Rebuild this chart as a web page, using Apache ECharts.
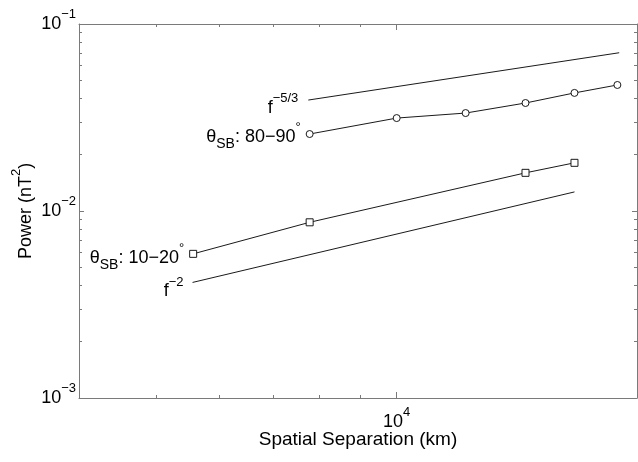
<!DOCTYPE html>
<html>
<head>
<meta charset="utf-8">
<script src="https://cdn.jsdelivr.net/npm/echarts@6/dist/echarts.min.js"></script>
<style>
html,body{margin:0;padding:0;background:#fff;}
#c{width:638px;height:462px;}
</style>
</head>
<body>
<div id="c"></div>
<script>
// ---- data ----
const xMin = 4000, xMax = 20000;
const yMin = 0.001, yMax = 0.1;
const xMajorTicks = [10000];
const xMinorTicks = [5000, 6000, 7000, 8000, 9000];
const yMajorTicks = [0.001, 0.01, 0.1];
const yMinorTicks = [0.002,0.003,0.004,0.005,0.006,0.007,0.008,0.009,0.02,0.03,0.04,0.05,0.06,0.07,0.08,0.09];

const perpX = [7780, 10000, 12200, 14500, 16700, 18900];   // theta_SB 80-90
const perpY = [0.0258, 0.0314, 0.0334, 0.0378, 0.0428, 0.0472];
const parX  = [5560, 7780, 14500, 16700];                   // theta_SB 10-20
const parY  = [0.0059, 0.0087, 0.0160, 0.0181];
const f53X  = [7750, 19000];                                // f^-5/3 reference
const f53Y  = [0.0392, 0.0702];
const f2X   = [5550, 16700];                                // f^-2 reference
const f2Y   = [0.00415, 0.01265];

const perpLabel = '{n|\u03b8}{sub|SB}{n|: 80\u221290}{sup|\u00b0}';
const parLabel  = '{n|\u03b8}{sub|SB}{n|: 10\u221220}{sup|\u00b0}';
const f53Label  = '{n|f}{sup|\u22125/3}';
const f2Label   = '{n|f}{sup|\u22122}';

// ---- styling ----
const FONT = '"Liberation Sans", Arial, Helvetica, sans-serif';
const rich = {
  n:   {fontFamily: FONT, fontSize: 18, lineHeight: 18, padding: [0,0,5,0], verticalAlign: 'bottom', color: '#000'},
  sup: {fontFamily: FONT, fontSize: 13, lineHeight: 13, padding: [0,0,17,0], verticalAlign: 'bottom', color: '#000'},
  sub: {fontFamily: FONT, fontSize: 14, lineHeight: 14, verticalAlign: 'bottom', color: '#000'}
};
const AX = '#7a7a7a';
const LC = '#1a1a1a';

function expFmt(v) {
  const e = Math.round(Math.log10(v));
  return '{n|10}{sup|' + (e < 0 ? '\u2212' + (-e) : String(e)) + '}';
}
function zip(xs, ys) { return xs.map((x, i) => [x, ys[i]]); }
function withFirstLabel(pts, text, dist, offset) {
  return pts.map((p, i) => i === 0 ? {
    value: p,
    label: {show: true, position: 'left', distance: dist, offset: offset,
            formatter: text, rich: rich}
  } : {value: p});
}

function xAx(pos, ticks, len, showLine, showLabel) {
  return {
    type: 'log', logBase: 10, min: xMin, max: xMax, position: pos, offset: 0, gridIndex: 0,
    axisLine: {show: showLine, onZero: false, lineStyle: {color: AX, width: 1}},
    axisTick: {show: true, inside: true, length: len, customValues: ticks, lineStyle: {color: AX}},
    axisLabel: showLabel ? {show: true, customValues: ticks, margin: 20, formatter: expFmt, rich: rich} : {show: false},
    splitLine: {show: false}, minorTick: {show: false}
  };
}
function yAx(pos, ticks, len, showLine, showLabel) {
  return {
    type: 'log', logBase: 10, min: yMin, max: yMax, position: pos, offset: 0, gridIndex: 0,
    axisLine: {show: showLine, onZero: false, lineStyle: {color: AX, width: 1}},
    axisTick: {show: true, inside: true, length: len, customValues: ticks, lineStyle: {color: AX}},
    axisLabel: showLabel ? {show: true, customValues: ticks, margin: 3, padding: [10,0,0,0], formatter: expFmt, rich: rich} : {show: false},
    splitLine: {show: false}, minorTick: {show: false}
  };
}

const xAxes = [
  xAx('bottom', xMajorTicks, 6, true, true),
  xAx('bottom', xMinorTicks, 3, false, false),
  xAx('top', xMajorTicks, 6, true, false),
  xAx('top', xMinorTicks, 3, false, false)
];
Object.assign(xAxes[0], {
  name: 'Spatial Separation (km)', nameLocation: 'middle', nameGap: 32, nameMoveOverlap: false,
  nameTextStyle: {fontFamily: FONT, fontSize: 19, color: '#000'}
});
const yAxes = [
  yAx('left', yMajorTicks, 5, true, true),
  yAx('left', yMinorTicks, 3, false, false),
  yAx('right', yMajorTicks, 5, true, false),
  yAx('right', yMinorTicks, 3, false, false)
];
Object.assign(yAxes[0], {
  name: '{n|Power (nT}{sup|2}{n|)}', nameLocation: 'middle', nameGap: 39, nameMoveOverlap: false,
  nameTextStyle: {rich: rich}
});

const baseSeries = {
  type: 'line', xAxisIndex: 0, yAxisIndex: 0, silent: true,
  lineStyle: {color: LC, width: 1}, emphasis: {disabled: true},
  itemStyle: {color: '#fff', borderColor: LC, borderWidth: 1}
};

const option = {
  animation: false,
  backgroundColor: '#fff',
  grid: {left: 79, right: 1, top: 24, bottom: 64, containLabel: false, outerBoundsMode: 'none'},
  xAxis: xAxes,
  yAxis: yAxes,
  series: [
    Object.assign({}, baseSeries, {
      name: 'f-5/3', symbol: 'circle', symbolSize: 0,
      data: withFirstLabel(zip(f53X, f53Y), f53Label, 10, [0, 13])
    }),
    Object.assign({}, baseSeries, {
      name: '80-90', symbol: 'circle', symbolSize: 7,
      data: withFirstLabel(zip(perpX, perpY), perpLabel, 5, [0, 8])
    }),
    Object.assign({}, baseSeries, {
      name: '10-20', symbol: 'rect', symbolSize: 7,
      data: withFirstLabel(zip(parX, parY), parLabel, 5, [0, 9])
    }),
    Object.assign({}, baseSeries, {
      name: 'f-2', symbol: 'circle', symbolSize: 0,
      data: withFirstLabel(zip(f2X, f2Y), f2Label, 9, [0, 14])
    })
  ]
};

const chart = echarts.init(document.getElementById('c'), null, {renderer: 'canvas'});
chart.setOption(option);
</script>
</body>
</html>
